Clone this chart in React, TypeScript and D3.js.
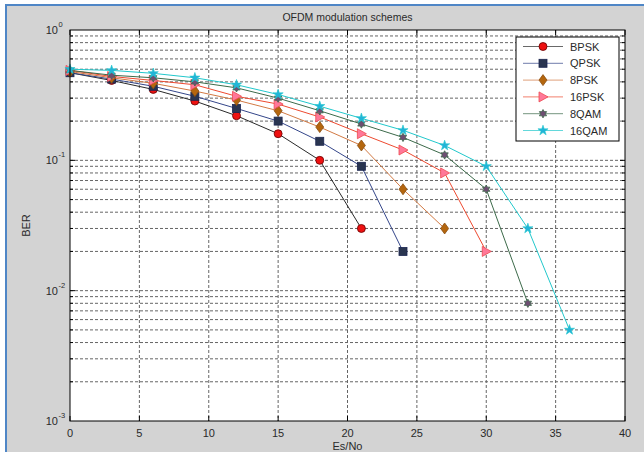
import React from "react";
import * as d3 from "d3";

// Es/No sample points (dB) and BER curves for each modulation
const snrBPSK = [0, 3, 6, 9, 12, 15, 18, 21];
const berBPSK = [0.47, 0.41, 0.35, 0.285, 0.22, 0.16, 0.1, 0.03];

const snrQPSK = [0, 3, 6, 9, 12, 15, 18, 21, 24];
const berQPSK = [0.47, 0.42, 0.37, 0.31, 0.25, 0.2, 0.14, 0.09, 0.02];

const snr8PSK = [0, 3, 6, 9, 12, 15, 18, 21, 24, 27];
const ber8PSK = [0.48, 0.43, 0.39, 0.34, 0.29, 0.24, 0.18, 0.13, 0.06, 0.03];

const snr16PSK = [0, 3, 6, 9, 12, 15, 18, 21, 24, 27, 30];
const ber16PSK = [0.49, 0.44, 0.41, 0.38, 0.31, 0.27, 0.215, 0.16, 0.12, 0.08, 0.02];

const snr8QAM = [0, 3, 6, 9, 12, 15, 18, 21, 24, 27, 30, 33];
const ber8QAM = [0.49, 0.45, 0.43, 0.4, 0.36, 0.3, 0.24, 0.19, 0.15, 0.11, 0.06, 0.008];

const snr16QAM = [0, 3, 6, 9, 12, 15, 18, 21, 24, 27, 30, 33, 36];
const ber16QAM = [0.5, 0.49, 0.465, 0.43, 0.38, 0.32, 0.26, 0.21, 0.17, 0.13, 0.09, 0.03, 0.005];

const seriesNames = ["BPSK", "QPSK", "8PSK", "16PSK", "8QAM", "16QAM"];
const xTicks = [0, 5, 10, 15, 20, 25, 30, 35, 40];
const yDecades = [-3, -2, -1, 0];

type Style = { line: string; fill: string; edge: string; marker: string };
const styles: Style[] = [
  { line: "#2a2a2a", fill: "#ee1111", edge: "#660000", marker: "circle" },
  { line: "#34468a", fill: "#2a3550", edge: "#1a2550", marker: "square" },
  { line: "#d27a44", fill: "#b4660e", edge: "#8a4e10", marker: "diamond" },
  { line: "#ee4a30", fill: "#ff7898", edge: "#ee4a50", marker: "triangle" },
  { line: "#3c6a4a", fill: "#6e4e72", edge: "#3c6a4a", marker: "hexagram" },
  { line: "#22c8cc", fill: "#22b4d8", edge: "#22c8cc", marker: "star" },
];

const W = 644;
const H = 452;
const L = 70, R = 625, T = 30, B = 421;

const x = d3.scaleLinear().domain([0, 40]).range([L, R]);
const y = d3.scaleLog().domain([1e-3, 1]).range([B, T]);

function Marker({ kind, cx, cy, fill, edge }: { kind: string; cx: number; cy: number; fill: string; edge: string }) {
  if (kind === "circle") return <circle cx={cx} cy={cy} r={4} fill={fill} stroke={edge} strokeWidth={0.8} />;
  if (kind === "square") return <rect x={cx - 4} y={cy - 4} width={8} height={8} fill={fill} stroke={edge} strokeWidth={0.8} />;
  if (kind === "diamond") {
    const p = `M${cx},${cy - 5.5}L${cx + 4},${cy}L${cx},${cy + 5.5}L${cx - 4},${cy}Z`;
    return <path d={p} fill={fill} stroke={edge} strokeWidth={0.8} />;
  }
  if (kind === "triangle") {
    const p = `M${cx + 5},${cy}L${cx - 4},${cy - 5}L${cx - 4},${cy + 5}Z`;
    return <path d={p} fill={fill} stroke={edge} strokeWidth={0.8} />;
  }
  if (kind === "hexagram") {
    const pts: string[] = [];
    for (let i = 0; i < 12; i++) {
      const a = (Math.PI / 6) * i - Math.PI / 2;
      const r = i % 2 === 0 ? 4.2 : 2.4;
      pts.push(`${cx + r * Math.cos(a)},${cy + r * Math.sin(a)}`);
    }
    return <path d={`M${pts.join("L")}Z`} fill={fill} stroke={edge} strokeWidth={0.8} />;
  }
  const star = d3.symbol().type(d3.symbolStar).size(32)();
  return <path d={star ?? ""} transform={`translate(${cx},${cy})`} fill={fill} stroke={edge} strokeWidth={0.6} />;
}

export default function App() {
  const series = [
    { name: seriesNames[0], xs: snrBPSK, ys: berBPSK },
    { name: seriesNames[1], xs: snrQPSK, ys: berQPSK },
    { name: seriesNames[2], xs: snr8PSK, ys: ber8PSK },
    { name: seriesNames[3], xs: snr16PSK, ys: ber16PSK },
    { name: seriesNames[4], xs: snr8QAM, ys: ber8QAM },
    { name: seriesNames[5], xs: snr16QAM, ys: ber16QAM },
  ];

  const line = d3
    .line<[number, number]>()
    .x((d) => x(d[0]))
    .y((d) => y(d[1]));

  // log grid values inside the axes
  const gridVals: { v: number; major: boolean }[] = [];
  for (let e = -3; e < 0; e++) {
    for (let k = 1; k <= 9; k++) {
      const v = k * Math.pow(10, e);
      if (v > 1e-3 && v < 1) gridVals.push({ v, major: k === 1 });
    }
  }

  const font = "'Liberation Sans', Arial, sans-serif";
  const txt = "#2a2a2a";

  const legX = 516, legY = 37, legW = 103, legH = 104;
  const rowH = 16.8;

  return (
    <svg width={W} height={H} style={{ position: "absolute", left: 0, top: 0 }} fontFamily={font}>
      <rect x={0} y={0} width={W} height={H} fill="#d3d3d3" />
      <rect x={0} y={0} width={W} height={4} fill="#ffffff" />
      <rect x={0} y={0} width={5} height={H} fill="#ffffff" />
      <rect x={5} y={4} width={W - 5} height={2} fill="#4f86c6" />
      <rect x={5} y={4} width={2} height={H - 4} fill="#4f86c6" />

      <rect x={L} y={T} width={R - L} height={B - T} fill="#ffffff" />

      {/* grid */}
      <g stroke="#000" strokeWidth={1} strokeDasharray="3,2" opacity={0.6}>
        {xTicks.slice(1, -1).map((t) => (
          <line key={`gx${t}`} x1={x(t)} x2={x(t)} y1={T} y2={B} />
        ))}
        {gridVals.map((g) => (
          <line key={`gy${g.v}`} x1={L} x2={R} y1={y(g.v)} y2={y(g.v)} />
        ))}
      </g>

      {/* ticks */}
      <g stroke="#000" strokeWidth={1}>
        {xTicks.map((t) => (
          <g key={`tx${t}`}>
            <line x1={x(t)} x2={x(t)} y1={B} y2={B - 5} />
            <line x1={x(t)} x2={x(t)} y1={T} y2={T + 5} />
          </g>
        ))}
        {gridVals.map((g) => (
          <g key={`ty${g.v}`}>
            <line x1={L} x2={L + (g.major ? 5 : 3)} y1={y(g.v)} y2={y(g.v)} />
            <line x1={R} x2={R - (g.major ? 5 : 3)} y1={y(g.v)} y2={y(g.v)} />
          </g>
        ))}
      </g>

      {/* series */}
      {series.map((s, i) => {
        const pts = s.xs.map((v, j) => [v, s.ys[j]] as [number, number]);
        return (
          <g key={s.name}>
            <path d={line(pts) ?? ""} fill="none" stroke={styles[i].line} strokeWidth={1} />
            {pts.map((p, j) => (
              <Marker key={j} kind={styles[i].marker} cx={x(p[0])} cy={y(p[1])} fill={styles[i].fill} edge={styles[i].edge} />
            ))}
          </g>
        );
      })}

      <rect x={L} y={T} width={R - L} height={B - T} fill="none" stroke="#000" strokeWidth={1} />

      {/* x tick labels */}
      {xTicks.map((t) => (
        <text key={`lx${t}`} x={x(t)} y={437} fontSize={11} fill={txt} textAnchor="middle">
          {t}
        </text>
      ))}

      {/* y tick labels */}
      {yDecades.map((e) => (
        <g key={`ly${e}`}>
          <text x={58} y={y(Math.pow(10, e)) + 4} fontSize={11} fill={txt} textAnchor="end">
            10
          </text>
          <text x={58.5} y={y(Math.pow(10, e)) - 3} fontSize={7.5} fill={txt} textAnchor="start">
            {e}
          </text>
        </g>
      ))}

      <text x={(L + R) / 2} y={450} fontSize={11} fill={txt} textAnchor="middle">
        Es/No
      </text>
      <text transform={`translate(30,${(T + B) / 2}) rotate(-90)`} fontSize={11} fill={txt} textAnchor="middle">
        BER
      </text>
      <text x={(L + R) / 2} y={21} fontSize={10.5} fill={txt} textAnchor="middle">
        OFDM modulation schemes
      </text>

      {/* legend */}
      <rect x={legX} y={legY} width={legW} height={legH} fill="#ffffff" stroke="#000" strokeWidth={1} />
      {series.map((s, i) => {
        const cy = legY + 9.5 + i * rowH;
        return (
          <g key={`leg${s.name}`}>
            <line x1={523} x2={563} y1={cy} y2={cy} stroke={styles[i].line} strokeWidth={1} opacity={0.7} />
            <Marker kind={styles[i].marker} cx={543} cy={cy} fill={styles[i].fill} edge={styles[i].edge} />
            <text x={570} y={cy + 4} fontSize={11} fill={txt}>
              {s.name}
            </text>
          </g>
        );
      })}
    </svg>
  );
}
